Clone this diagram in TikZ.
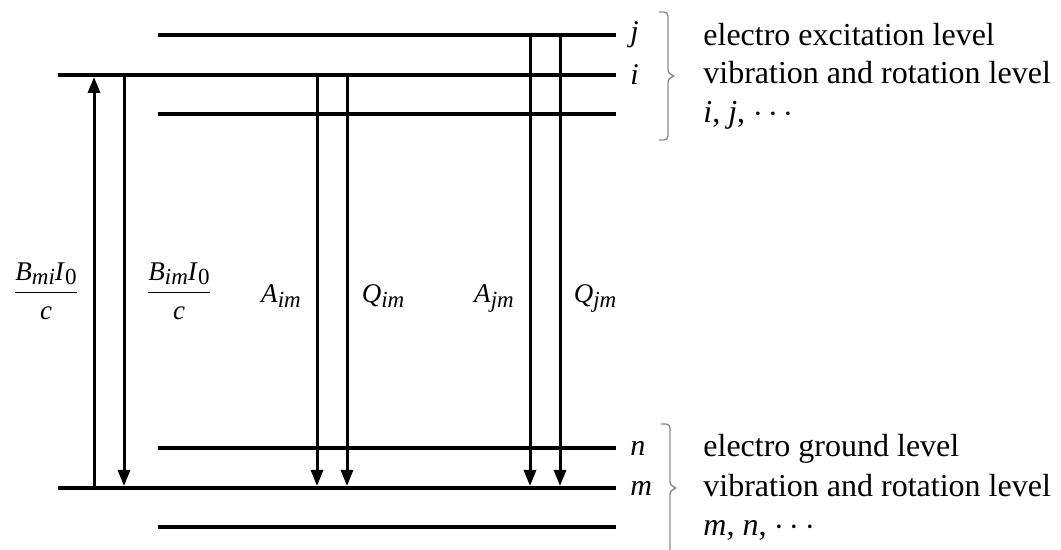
\documentclass[tikz,border=0pt]{standalone}
\usepackage{amsmath}
\usepackage{fontspec}
\setmainfont{Liberation Serif}
\usepackage{tikz}
\usetikzlibrary{arrows.meta,positioning}
\definecolor{bracegray}{HTML}{8C8C8C}
\newcommand{\sbs}[1]{\raisebox{-0.35ex}{\fontsize{11.5}{12}\selectfont\textit{#1}}}
\newcommand{\sbn}[1]{\raisebox{-0.35ex}{\fontsize{11.5}{12}\selectfont\textup{#1}}}

\begin{document}
\begin{tikzpicture}[
  x=0.5pt,y=-0.5pt,
  lvl/.style={line width=2pt,draw=black},
  arr/.style={-{Triangle[length=8pt,width=6pt]},line width=1.5pt,draw=black,shorten >=1pt},
  lvlab/.style={font=\fontsize{15}{17}\selectfont\itshape,inner sep=0pt},
  txt/.style={font=\fontsize{16}{19}\selectfont,anchor=base west,inner sep=0pt},
  coef/.style={font=\fontsize{13.5}{16}\selectfont,inner sep=0pt},
  brc/.style={draw=bracegray,line width=0.7pt,rounded corners=2pt}
]
\useasboundingbox (0,0) rectangle (1061,550);
% energy levels
\coordinate (jL) at (158,35);  \coordinate (jR) at (616,35);
\coordinate (iL) at (58,75);   \coordinate (iR) at (616,75);
\coordinate (uL) at (158,114); \coordinate (uR) at (616,114);
\coordinate (nL) at (158,448); \coordinate (nR) at (616,448);
\coordinate (mL) at (58,488);  \coordinate (mR) at (616,488);
\coordinate (dL) at (158,527); \coordinate (dR) at (616,527);
\draw[lvl] (jL)--(jR); \draw[lvl] (iL)--(iR); \draw[lvl] (uL)--(uR);
\draw[lvl] (nL)--(nR); \draw[lvl] (mL)--(mR); \draw[lvl] (dL)--(dR);
\node[lvlab,right=7pt of jR] (labj) {j};
\node[lvlab,right=7pt of iR] (labi) {i};
\node[lvlab,right=7pt of nR] (labn) {n};
\node[lvlab,right=7pt of mR] (labm) {m};
% transitions
\coordinate (t1) at (94,0);  \coordinate (t2) at (124,0);
\coordinate (t3) at (317,0); \coordinate (t4) at (347,0);
\coordinate (t5) at (530,0); \coordinate (t6) at (560,0);
\draw[arr] (t1|-mL)--(t1|-iL); \draw[arr] (t2|-iL)--(t2|-mL);
\draw[arr] (t3|-iL)--(t3|-mL); \draw[arr] (t4|-iL)--(t4|-mL);
\draw[arr] (t5|-jL)--(t5|-mL); \draw[arr] (t6|-jL)--(t6|-mL);
\node[coef] (bmi) at (46,291) {$\dfrac{\text{\textit{B}\sbs{mi}\textit{I}\sbn{0}}}{\text{\textit{c}}}$};
\node[coef] (bim) at (179,291) {$\dfrac{\text{\textit{B}\sbs{im}\textit{I}\sbn{0}}}{\text{\textit{c}}}$};
\node[coef,anchor=base] (aim) at (281,303) {\textit{A}\sbs{im}};
\node[coef,anchor=base] (qim) at (383,303) {\textit{Q}\sbs{im}};
\node[coef,anchor=base] (ajm) at (494,303) {\textit{A}\sbs{jm}};
\node[coef,anchor=base] (qjm) at (595,303) {\textit{Q}\sbs{jm}};
% braces and level groups
\draw[brc] (659,12) -- (668,12) -- (668,74) -- (676,76) -- (668,78) -- (668,140) -- (659,140);
\draw[brc] (661,424) -- (670,424) -- (670,486) -- (678,488) -- (670,490) -- (670,560);
\node[txt] (exc) at (703,46) {electro excitation level};
\node[txt] (vibu) at (703,84) {vibration and rotation level};
\node[txt] (ij) at (703,123) {\textit{i}, \textit{j}, $\cdots$};
\node[txt] (gnd) at (703,457) {electro ground level};
\node[txt] (vibd) at (703,497) {vibration and rotation level};
\node[txt] (mn) at (703,536) {\textit{m}, \textit{n}, $\cdots$};
\end{tikzpicture}
\end{document}
